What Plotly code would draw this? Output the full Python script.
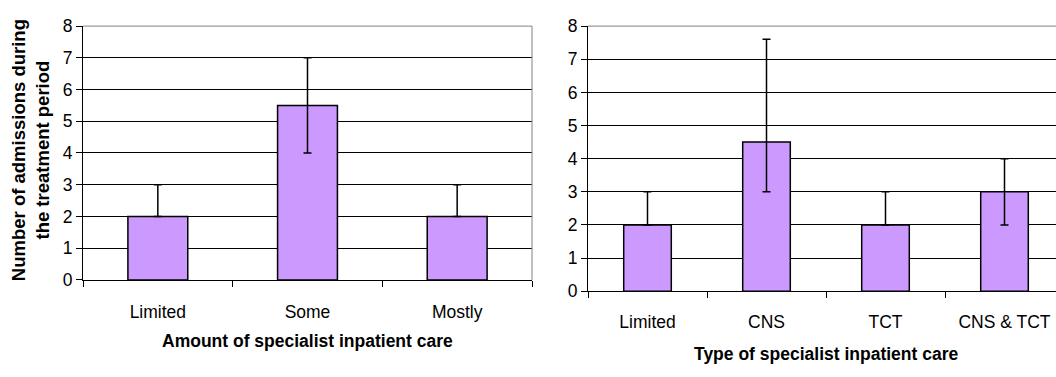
import plotly.graph_objects as go

# Number of admissions during the treatment period (median with range bars)
amount_cats = ["Limited", "Some", "Mostly"]
amount_vals = [2, 5.5, 2]
amount_low = [2, 4, 2]
amount_high = [3, 7, 3]

type_cats = ["Limited", "CNS", "TCT", "CNS & TCT"]
type_vals = [2, 4.5, 2, 3]
type_low = [2, 3, 2, 2]
type_high = [3, 7.6, 3, 4]

y_ticks = [0, 1, 2, 3, 4, 5, 6, 7, 8]

W, H = 1056, 377
FONT = "Liberation Sans, Arial, sans-serif"
BAR_FILL = "#CC99FF"


def fx(px):
    return px / W


def fy(py):
    return 1 - py / H


def bar_trace(cats, vals, low, high, xa, ya):
    return go.Bar(
        x=cats, y=vals, xaxis=xa, yaxis=ya, width=0.4,
        marker=dict(color=BAR_FILL, line=dict(color="black", width=1.5)),
        error_y=dict(
            type="data", symmetric=False,
            array=[h - v for h, v in zip(high, vals)],
            arrayminus=[v - l for v, l in zip(vals, low)],
            color="black", thickness=1.5, width=4,
        ),
        showlegend=False, hoverinfo="skip",
    )


fig = go.Figure()
fig.add_trace(bar_trace(amount_cats, amount_vals, amount_low, amount_high, "x", "y"))
fig.add_trace(bar_trace(type_cats, type_vals, type_low, type_high, "x2", "y2"))

# left panel occupies px 83..532 horizontally, 17..285 vertically
L_X0, L_X1, L_Y0, L_Y1 = 83, 532, 17, 285
# right panel spans px 588..1064 (clipped at the page edge), 17..297 vertically
R_X0, R_X1, R_Y0, R_Y1 = 588, 1064, 17, 297
r_span = len(type_cats) * (W - R_X0) / (R_X1 - R_X0)

tick_font = dict(family=FONT, size=17.5, color="black")

common_x = dict(
    type="category", showgrid=False, showline=True, linecolor="black", linewidth=1,
    ticks="outside", tickson="boundaries", ticklen=6, tickcolor="black",
    tickfont=tick_font, fixedrange=True,
)
common_y = dict(
    range=[0, 8], tickvals=y_ticks, showgrid=True, gridcolor="black", gridwidth=1,
    zeroline=False, showline=True, linecolor="black", linewidth=1,
    ticks="outside", ticklen=6, tickcolor="black", tickfont=tick_font,
    fixedrange=True,
)

fig.update_layout(
    width=W, height=H,
    margin=dict(l=0, r=0, t=0, b=0),
    paper_bgcolor="white", plot_bgcolor="white",
    font=dict(family=FONT, color="black"),
    bargap=0.6,
    xaxis=dict(common_x, domain=[fx(L_X0), fx(L_X1)], anchor="y",
               range=[-0.5, len(amount_cats) - 0.5], ticklabelstandoff=16),
    yaxis=dict(common_y, domain=[fy(L_Y1), fy(L_Y0)], anchor="x"),
    xaxis2=dict(common_x, domain=[fx(R_X0), 1.0], anchor="y2",
                range=[-0.5, -0.5 + r_span], ticklabelstandoff=15),
    yaxis2=dict(common_y, domain=[fy(R_Y1), fy(R_Y0)], anchor="x2"),
)

# grey plot-area border on top and right sides
border = dict(color="#808080", width=1)
fig.add_shape(type="line", xref="x domain", yref="y domain", x0=0, x1=1, y0=1, y1=1,
              line=border, layer="above")
fig.add_shape(type="line", xref="x domain", yref="y domain", x0=1, x1=1, y0=0, y1=1,
              line=border, layer="above")
fig.add_shape(type="line", xref="x2 domain", yref="y2 domain", x0=0, x1=1, y0=1, y1=1,
              line=border, layer="above")

title_font = dict(family=FONT, size=17.5, color="black")
fig.add_annotation(
    text="<b>Amount of specialist inpatient care</b>", xref="paper", yref="paper",
    x=fx((L_X0 + L_X1) / 2), y=fy(350), showarrow=False, font=title_font,
    xanchor="center", yanchor="middle",
)
fig.add_annotation(
    text="<b>Type of specialist inpatient care</b>", xref="paper", yref="paper",
    x=fx((R_X0 + R_X1) / 2), y=fy(363), showarrow=False, font=title_font,
    xanchor="center", yanchor="middle",
)
fig.add_annotation(
    text="<b>Number of admissions during<br>the treatment period</b>",
    xref="paper", yref="paper", x=fx(30), y=fy(148), showarrow=False,
    textangle=-90, font=dict(family=FONT, size=18.5, color="black"),
    xanchor="center", yanchor="middle",
)

fig.write_html("out.html")
